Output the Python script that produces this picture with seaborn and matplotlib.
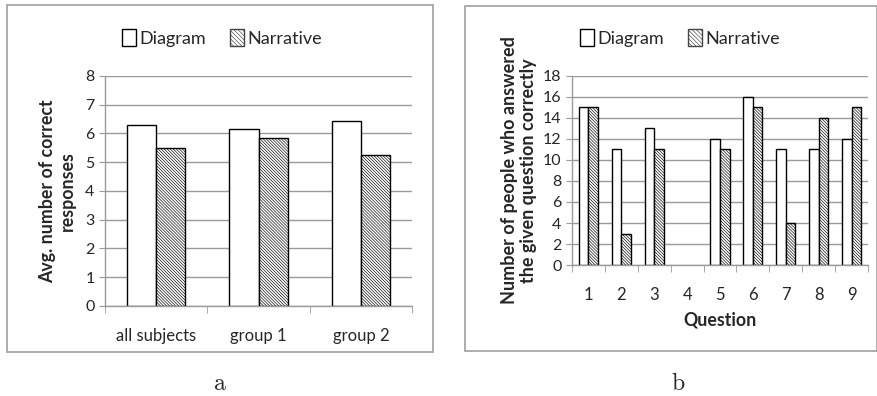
import pandas as pd
import matplotlib.pyplot as plt
import seaborn as sns
from matplotlib.patches import Rectangle, Patch

# data
groups = ['all subjects', 'group 1', 'group 2']
diagram_avg = [6.3, 6.15, 6.45]
narrative_avg = [5.5, 5.85, 5.25]

questions = ['1', '2', '3', '4', '5', '6', '7', '8', '9']
diagram_q = [15, 11, 13, 0, 12, 16, 11, 11, 12]
narrative_q = [15, 3, 11, 0, 11, 15, 4, 14, 15]

sns.set_style('white')
plt.rcParams['font.family'] = ['Lato', 'DejaVu Sans']
plt.rcParams['mathtext.fontset'] = 'cm'
plt.rcParams['hatch.color'] = '#707070'
plt.rcParams['hatch.linewidth'] = 0.45

df_a = pd.DataFrame({'group': groups * 2,
                     'value': diagram_avg + narrative_avg,
                     'cond': ['Diagram'] * 3 + ['Narrative'] * 3})
df_b = pd.DataFrame({'q': questions * 2,
                     'value': diagram_q + narrative_q,
                     'cond': ['Diagram'] * 9 + ['Narrative'] * 9})

fig = plt.figure(figsize=(8.78, 3.96), dpi=100)
ax_a = fig.add_axes([0.1196, 0.2273, 0.3497, 0.5808])
ax_b = fig.add_axes([0.6515, 0.3308, 0.3371, 0.4773])

palette = {'Diagram': 'white', 'Narrative': 'white'}
hatch = '\\' * 11


def style_axis(ax, n, ymax, step):
    # hatch the narrative bars, hide empty ones
    for i, bar in enumerate(ax.patches[:2 * n]):
        bar.set_edgecolor('black')
        bar.set_linewidth(1.0)
        if i >= n:
            bar.set_hatch(hatch)
        if bar.get_height() == 0:
            bar.set_visible(False)
    ax.set_ylim(0, ymax)
    ax.set_xlim(-0.5, n - 0.5)
    ax.set_yticks(range(0, ymax + 1, step))
    ax.yaxis.grid(True, color='#9a9a9a', linewidth=1.0)
    ax.set_axisbelow(True)
    for s in ['top', 'right']:
        ax.spines[s].set_visible(False)
    for s in ['left', 'bottom']:
        ax.spines[s].set_color('#9a9a9a')
        ax.spines[s].set_linewidth(1.0)
    ax.set_xticks([i + 0.5 for i in range(-1, n)], minor=True)
    ax.tick_params(axis='x', which='minor', length=5, color='#9a9a9a', direction='out', bottom=True)
    ax.tick_params(axis='x', which='major', length=0, labelsize=12, pad=16)
    ax.tick_params(axis='y', length=4, color='#9a9a9a', direction='out', left=True, labelsize=11.5)


sns.barplot(data=df_a, x='group', y='value', hue='cond', palette=palette,
            width=0.57, ax=ax_a, legend=False)
style_axis(ax_a, 3, 8, 1)
ax_a.set_xlabel('')
ax_a.set_ylabel('Avg. number of correct\nresponses', fontsize=12.8, fontweight='bold', labelpad=7)

sns.barplot(data=df_b, x='q', y='value', hue='cond', palette=palette,
            width=0.58, ax=ax_b, legend=False)
style_axis(ax_b, 9, 18, 2)
ax_b.set_xlabel('Question', fontsize=12.8, fontweight='bold', labelpad=6)
ax_b.set_ylabel('Number of people who answered\nthe given question correctly',
                fontsize=13, fontweight='bold', labelpad=4)

handles = [Patch(facecolor='white', edgecolor='black', label='Diagram'),
           Patch(facecolor='white', edgecolor='#444444', hatch='\\' * 8, label='Narrative')]
for x in [222 / 878, 680 / 878]:
    fig.legend(handles=handles, loc='center', bbox_to_anchor=(x, 1 - 38 / 396), ncol=2,
               frameon=False, fontsize=13, handlelength=0.8, handleheight=1.0,
               handletextpad=0.2, columnspacing=1.3)

# panel frames
fig.patches.append(Rectangle((7 / 878, 1 - 352 / 396), 426 / 878, 347 / 396,
                             transform=fig.transFigure, fill=False, edgecolor='#a0a0a0', linewidth=1.2))
fig.patches.append(Rectangle((465 / 878, 1 - 351 / 396), 412 / 878, 345 / 396,
                             transform=fig.transFigure, fill=False, edgecolor='#a0a0a0', linewidth=1.2))

fig.text(220 / 878, 1 - 383 / 396, r'$\mathrm{a}$', ha='center', va='center', fontsize=17)
fig.text(678 / 878, 1 - 383 / 396, r'$\mathrm{b}$', ha='center', va='center', fontsize=17)

fig.savefig('out.png', dpi=100)
